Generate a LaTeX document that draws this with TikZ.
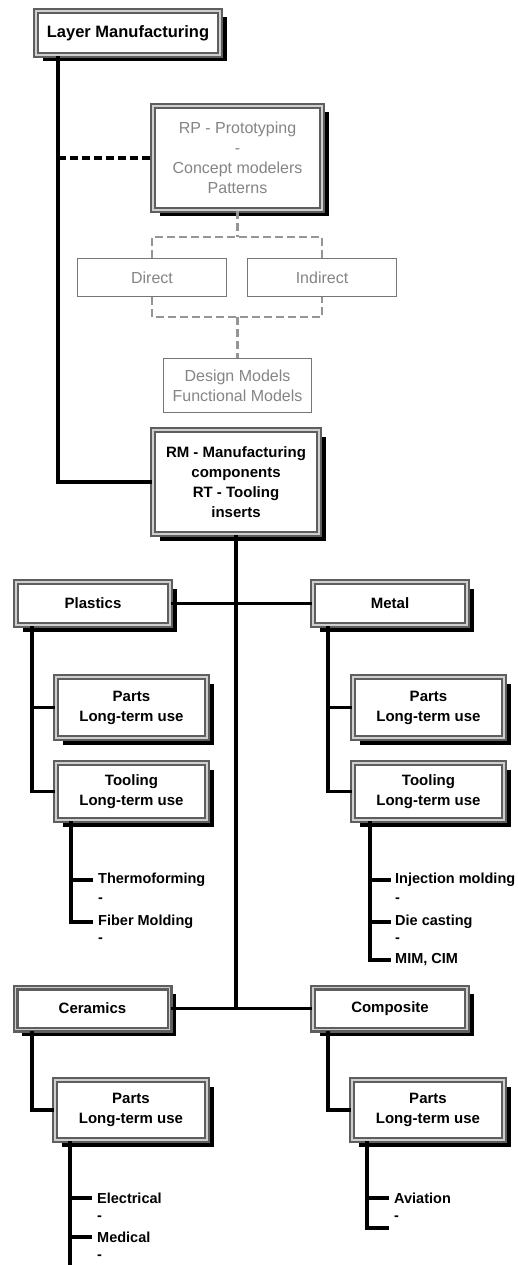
\documentclass[tikz,border=0pt]{standalone}
\usepackage{fontspec}
\setmainfont{Liberation Sans}
\usetikzlibrary{shadows}
\definecolor{frame}{HTML}{5E5E5E}
\definecolor{framelight}{HTML}{CFCFCF}
\definecolor{gtext}{HTML}{858585}
\definecolor{gline}{HTML}{959595}
\begin{document}
\begin{tikzpicture}[x=1pt,y=-1pt,
  fbox/.style={draw=frame, double=framelight, double distance=1.2pt, line width=2.4pt,
    fill=white, inner sep=0pt, align=center,
    drop shadow={shadow xshift=6.5pt, shadow yshift=-6.5pt, fill=black, opacity=1},
    font=\fontsize{15}{20}\selectfont\bfseries},
  graytxt/.style={text=gtext, font=\fontsize{16}{20}\selectfont},
  tbox/.style={draw=frame!85, line width=1.2pt, fill=white, inner sep=0pt, align=center,
    text=gtext, font=\fontsize{16}{20}\selectfont},
  conn/.style={draw=black, line width=3.2pt},
  bdash/.style={draw=black, line width=3.2pt, dash pattern=on 8pt off 4pt},
  gdash/.style={draw=gline, line width=2.8pt, dash pattern=on 8pt off 4pt},
  item/.style={anchor=west, inner xsep=5pt, inner ysep=1pt, font=\fontsize{14.5}{18}\selectfont\bfseries}
]
\useasboundingbox (0,0) rectangle (517,1265);

% ---------- nodes ----------
\node[fbox, minimum width=184pt, minimum height=44pt, font=\fontsize{16.5}{20}\selectfont\bfseries] (LM) at (128,33) {Layer Manufacturing};
\node[fbox, graytxt, minimum width=169pt, minimum height=104pt] (RP) at (237.5,158) {RP - Prototyping\\-\\Concept modelers\\Patterns};
\node[tbox, minimum width=148.8pt, minimum height=37.8pt] (Direct) at (152,277.5) {Direct};
\node[tbox, minimum width=148.8pt, minimum height=37.8pt] (Indirect) at (322,277.5) {Indirect};
\node[tbox, minimum width=147.8pt, minimum height=53.8pt] (Design) at (237.5,385.5) {Design Models\\Functional Models};
\node[fbox, minimum width=166pt, minimum height=104pt] (RM) at (236,482) {RM - Manufacturing\\components\\RT - Tooling\\inserts};

\node[fbox, minimum width=154pt, minimum height=43pt] (Plastics) at (93,603.5) {Plastics};
\node[fbox, minimum width=154pt, minimum height=43pt] (Metal) at (390,603.5) {Metal};
\node[fbox, minimum width=151pt, minimum height=61pt] (PParts) at (131.5,707.5) {Parts\\Long-term use};
\node[fbox, minimum width=151pt, minimum height=57pt] (PTool) at (131.5,791.5) {Tooling\\Long-term use};
\node[fbox, minimum width=151pt, minimum height=61pt] (MParts) at (428.5,707.5) {Parts\\Long-term use};
\node[fbox, minimum width=151pt, minimum height=57pt] (MTool) at (428.5,791.5) {Tooling\\Long-term use};

\node[fbox, minimum width=154pt, minimum height=42pt] (Ceramics) at (92.5,1008.5) {Ceramics};
\node[fbox, minimum width=154pt, minimum height=42pt] (Composite) at (390,1008.5) {Composite};
\node[fbox, minimum width=152pt, minimum height=60pt] (CParts) at (131,1110) {Parts\\Long-term use};
\node[fbox, minimum width=152pt, minimum height=60pt] (CoParts) at (428,1110) {Parts\\Long-term use};

% list items
\node[item] (tf) at (93,880) {Thermoforming};
\node[item] (tfd) at (93,900) {-};
\node[item] (fm) at (93,922) {Fiber Molding};
\node[item] (fmd) at (93,940) {-};

\node[item, inner xsep=4pt] (im) at (391,880) {Injection molding};
\node[item, inner xsep=4pt] (imd) at (391,900) {-};
\node[item, inner xsep=4pt] (dc) at (391,922) {Die casting};
\node[item, inner xsep=4pt] (dcd) at (391,940) {-};
\node[item, inner xsep=4pt] (mim) at (391,960) {MIM, CIM};

\node[item] (el) at (92,1198) {Electrical};
\node[item] (eld) at (92,1218) {-};
\node[item] (med) at (92,1237) {Medical};
\node[item] (medd) at (92,1257) {-};

\node[item] (av) at (389,1198) {Aviation};
\node[item] (avd) at (389,1218) {-};

% ---------- helper coordinates ----------
\coordinate (tr) at (58,0);
\coordinate (pl) at (32,0);
\coordinate (ml) at (328,0);
\coordinate (pv) at (71,0);
\coordinate (mv) at (370,0);
\coordinate (cv) at (70,0);
\coordinate (kv) at (367,0);
\coordinate (b1) at (237.5,237);
\coordinate (b2) at (237.5,317);
\coordinate (cend) at (70,1266);
\coordinate (kend) at (389,1228);

% ---------- connectors ----------
\draw[conn] (LM.south -| tr) |- (RM.west);
\draw[bdash] (RP.west -| tr) -- (RP.west);

\draw[gdash] (RP.south) -- (b1);
\draw[gdash] (Direct.north) |- (b1) -| (Indirect.north);
\draw[gdash] (Direct.south) |- (b2) -| (Indirect.south);
\draw[gdash] (b2) -- (Design.north);

\draw[conn] (RM.south) -- (RM.south |- Ceramics.east);
\draw[conn] (Plastics.east) -- (Metal.west);
\draw[conn] (Ceramics.east) -- (Composite.west);

\draw[conn] (Plastics.south -| pl) |- (PTool.west);
\draw[conn] (PParts.west -| pl) -- (PParts.west);
\draw[conn] (Metal.south -| ml) |- (MTool.west);
\draw[conn] (MParts.west -| ml) -- (MParts.west);
\draw[conn] (Ceramics.south -| pl) |- (CParts.west);
\draw[conn] (Composite.south -| ml) |- (CoParts.west);

\draw[conn] (PTool.south -| pv) |- (fm.west);
\draw[conn] (tf.west -| pv) -- (tf.west);

\draw[conn] (MTool.south -| mv) |- (mim.west);
\draw[conn] (im.west -| mv) -- (im.west);
\draw[conn] (dc.west -| mv) -- (dc.west);

\draw[conn] (CParts.south -| cv) -- (cend);
\draw[conn] (el.west -| cv) -- (el.west);
\draw[conn] (med.west -| cv) -- (med.west);

\draw[conn] (CoParts.south -| kv) |- (kend);
\draw[conn] (av.west -| kv) -- (av.west);
\end{tikzpicture}
\end{document}
